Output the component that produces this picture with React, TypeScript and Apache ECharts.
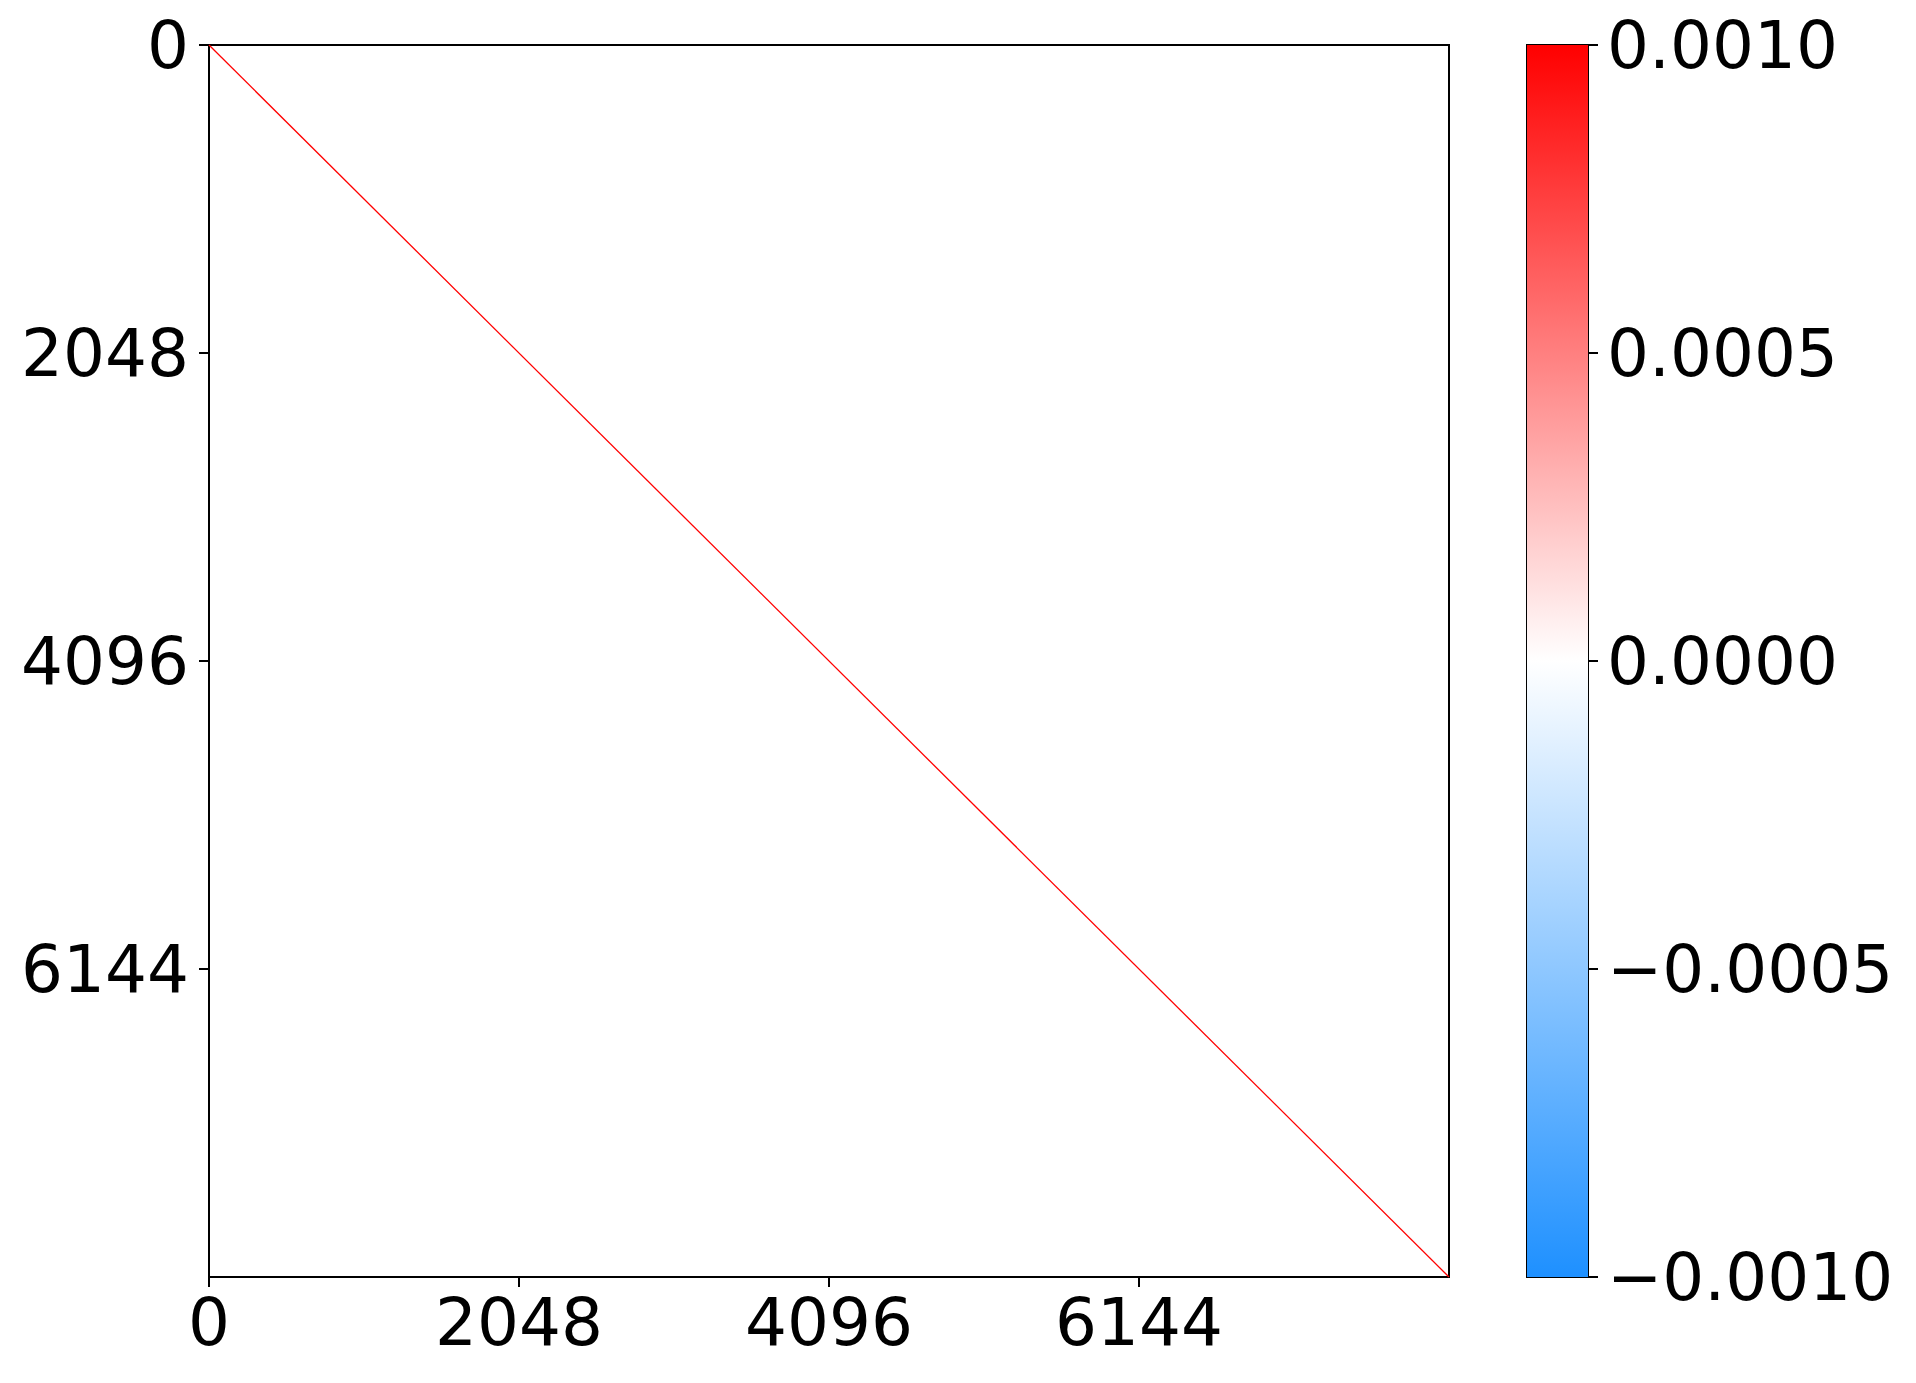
import React, { useEffect, useRef } from "react";
import * as echarts from "echarts";

const MATRIX_SIZE = 8192;
const AXIS_TICKS = [0, 2048, 4096, 6144];
const DIAGONAL_VALUE = 0.001;
const OFF_DIAGONAL_VALUE = 0;
const COLOR_MIN = -0.001;
const COLOR_MAX = 0.001;
const COLORBAR_TICKS = [-0.001, -0.0005, 0, 0.0005, 0.001];
const COLORMAP = ["#1e90ff", "#ffffff", "#ff0000"];

const FONT = "DejaVu Sans";
const FS = 66;

function fmtCb(v: number): string {
  if (Math.abs(v) < 1e-12) return "0.0000";
  return (v < 0 ? "\u2212" : "") + Math.abs(v).toFixed(4);
}

function colorAt(v: number): string {
  const t = Math.max(0, Math.min(1, (v - COLOR_MIN) / (COLOR_MAX - COLOR_MIN)));
  const hex = (h: string) => [1, 3, 5].map((i) => parseInt(h.slice(i, i + 2), 16));
  const a = t <= 0.5 ? hex(COLORMAP[0]) : hex(COLORMAP[1]);
  const b = t <= 0.5 ? hex(COLORMAP[1]) : hex(COLORMAP[2]);
  const u = t <= 0.5 ? t * 2 : (t - 0.5) * 2;
  const c = a.map((x, i) => Math.round(x + (b[i] - x) * u));
  return `rgb(${c[0]},${c[1]},${c[2]})`;
}

export default function App() {
  const ref = useRef<HTMLDivElement>(null);
  useEffect(() => {
    if (!ref.current) return;
    const chart = echarts.init(ref.current, undefined, { renderer: "svg" });
    const axisLabelCommon = {
      color: "#000",
      fontSize: FS,
      fontFamily: FONT,
    };
    const diagonalData = [
      [0, 0],
      [MATRIX_SIZE, MATRIX_SIZE],
    ];
    const axisLine = { show: true, onZero: false, lineStyle: { color: "#000", width: 2 } };
    chart.setOption({
      animation: false,
      backgroundColor: "#ffffff",
      grid: [
        {
          left: 209,
          top: 45,
          width: 1240,
          height: 1232,
          show: true,
          backgroundColor: colorAt(OFF_DIAGONAL_VALUE),
          borderColor: "#000",
          borderWidth: 2,
        },
        {
          left: 1527,
          top: 45,
          width: 61,
          height: 1232,
          show: true,
          backgroundColor: "transparent",
          borderColor: "#000",
          borderWidth: 2,
        },
      ],
      xAxis: [
        {
          type: "value",
          gridIndex: 0,
          min: 0,
          max: MATRIX_SIZE,
          interval: 2048,
          position: "bottom",
          splitLine: { show: false },
          axisLine,
          axisTick: {
            show: true,
            length: 10,
            customValues: AXIS_TICKS,
            lineStyle: { color: "#000", width: 2 },
          },
          axisLabel: {
            ...axisLabelCommon,
            margin: 12,
            customValues: AXIS_TICKS,
            formatter: (v: number) => String(v),
          },
        },
        {
          type: "value",
          gridIndex: 1,
          min: 0,
          max: 1,
          show: false,
        },
      ],
      yAxis: [
        {
          type: "value",
          gridIndex: 0,
          min: 0,
          max: MATRIX_SIZE,
          interval: 2048,
          inverse: true,
          position: "left",
          splitLine: { show: false },
          axisLine,
          axisTick: {
            show: true,
            length: 10,
            customValues: AXIS_TICKS,
            lineStyle: { color: "#000", width: 2 },
          },
          axisLabel: {
            ...axisLabelCommon,
            margin: 20,
            customValues: AXIS_TICKS,
            formatter: (v: number) => String(v),
          },
        },
        {
          type: "value",
          gridIndex: 1,
          min: COLOR_MIN,
          max: COLOR_MAX,
          interval: 0.0005,
          position: "right",
          splitLine: { show: false },
          axisLine,
          axisTick: {
            show: true,
            length: 10,
            customValues: COLORBAR_TICKS,
            lineStyle: { color: "#000", width: 2 },
          },
          axisLabel: {
            ...axisLabelCommon,
            margin: 19,
            customValues: COLORBAR_TICKS,
            formatter: (v: number) => fmtCb(v),
          },
        },
      ],
      series: [
        {
          type: "line",
          xAxisIndex: 0,
          yAxisIndex: 0,
          data: diagonalData,
          symbol: "none",
          lineStyle: { width: 1.3, color: colorAt(DIAGONAL_VALUE) },
          itemStyle: { color: colorAt(DIAGONAL_VALUE) },
          z: 5,
        },
        {
          type: "custom",
          xAxisIndex: 1,
          yAxisIndex: 1,
          data: [[0, COLOR_MIN, 1, COLOR_MAX]],
          renderItem: (params: any, api: any) => {
            const p0 = api.coord([api.value(0), api.value(3)]);
            const p1 = api.coord([api.value(2), api.value(1)]);
            return {
              type: "rect",
              shape: { x: p0[0], y: p0[1], width: p1[0] - p0[0], height: p1[1] - p0[1] },
              style: {
                fill: new echarts.graphic.LinearGradient(0, 0, 0, 1, [
                  { offset: 0, color: COLORMAP[2] },
                  { offset: 0.5, color: COLORMAP[1] },
                  { offset: 1, color: COLORMAP[0] },
                ]),
              },
            };
          },
          z: 1,
        },
      ],
    });
    return () => chart.dispose();
  }, []);
  return (
    <div
      ref={ref}
      style={{ position: "absolute", left: 0, top: 0, width: 1916, height: 1383 }}
    />
  );
}
